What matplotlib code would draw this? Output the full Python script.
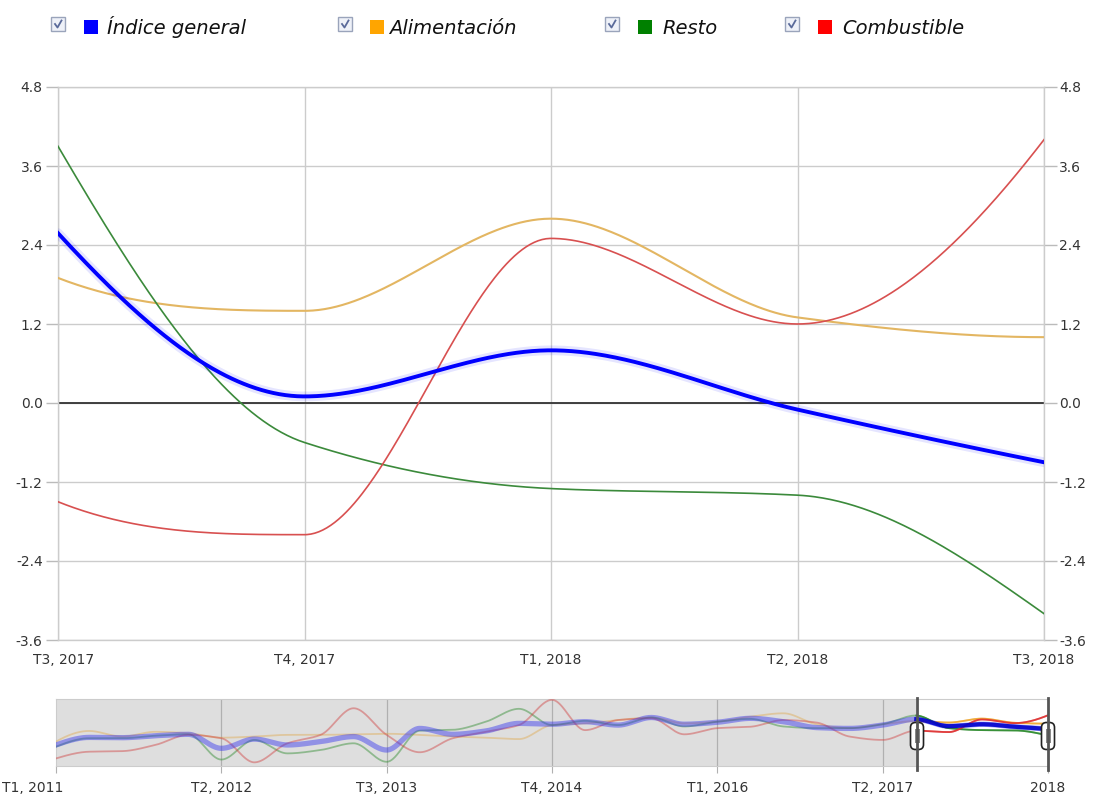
import numpy as np
import matplotlib.pyplot as plt
from matplotlib.patches import Rectangle, FancyBboxPatch
from matplotlib.lines import Line2D
from matplotlib.transforms import Affine2D, ScaledTranslation

# Datos del gráfico principal (trimestres)
periodos = ['T3, 2017', 'T4, 2017', 'T1, 2018', 'T2, 2018', 'T3, 2018']
indice_general = [2.58, 0.1, 0.8, -0.1, -0.9]
alimentacion = [1.9, 1.4, 2.8, 1.3, 1.0]
resto = [3.9, -0.6, -1.3, -1.4, -3.2]
combustible = [-1.5, -2.0, 2.5, 1.2, 4.0]

# Histórico del navegador, T1 2011 .. T2 2017 (después siguen los datos de arriba)
hist_indice = [-6.6, -3.9, -4.0, -3.3, -2.8, -7.8, -4.5, -6.6, -5.4, -3.6, -8.4, -0.7, -2.8,
               -1.6, 1.1, 0.8, 1.7, 0.5, 3.2, 0.8, 1.5, 2.9, 1.7, -0.4, -0.7, 0.5]
hist_alimentacion = [-5.4, -1.6, -3.6, -1.9, -2.4, -4.0, -3.6, -3.0, -3.0, -2.8, -2.6, -3.0, -3.6,
                     -4.0, -4.5, 0.5, 1.1, 2.3, 3.2, 1.1, 1.7, 3.5, 4.7, 0.8, -0.6, 0.8]
hist_resto = [-7.2, -4.2, -4.2, -3.3, -2.8, -11.8, -4.8, -9.6, -8.4, -6.0, -12.6, -1.5, -1.2,
              1.7, 6.3, 0.5, 2.0, 0.5, 3.2, 0.0, 1.7, 2.7, 0.0, -0.6, -0.6, 0.8]
hist_combustible = [-11.4, -9.0, -8.8, -6.6, -3.0, -4.2, -12.8, -6.0, -3.0, 6.5, -3.0, -9.2, -4.2,
                    -1.9, 0.5, 9.5, -1.3, 2.3, 2.9, -2.8, -0.6, -0.1, 2.3, 1.4, -3.6, -4.8]
nav_ticks = [0, 5, 10, 15, 20, 25, 30]
nav_labels = ['T1, 2011', 'T2, 2012', 'T3, 2013', 'T4, 2014', 'T1, 2016', 'T2, 2017', '2018']
nombres = ['Índice general', 'Alimentación', 'Resto', 'Combustible']

W, H = 1097, 800


# Interpolación monótona (tipo PCHIP) para suavizar las curvas
def pchip(x, y, xs):
    x = np.asarray(x, float)
    y = np.asarray(y, float)
    h = np.diff(x)
    d = np.diff(y) / h
    n = len(x)
    m = np.zeros(n)
    for k in range(1, n - 1):
        if d[k - 1] * d[k] > 0:
            w1 = 2 * h[k] + h[k - 1]
            w2 = h[k] + 2 * h[k - 1]
            m[k] = (w1 + w2) / (w1 / d[k - 1] + w2 / d[k])
    for (i, a, b, ha, hb) in [(0, d[0], d[1], h[0], h[1]), (n - 1, d[-1], d[-2], h[-1], h[-2])]:
        e = ((2 * ha + hb) * a - ha * b) / (ha + hb)
        if np.sign(e) != np.sign(a):
            e = 0
        elif np.sign(a) != np.sign(b) and abs(e) > abs(3 * a):
            e = 3 * a
        m[i] = e
    idx = np.clip(np.searchsorted(x, xs) - 1, 0, n - 2)
    t = (xs - x[idx]) / h[idx]
    h00 = 2 * t**3 - 3 * t**2 + 1
    h10 = t**3 - 2 * t**2 + t
    h01 = -2 * t**3 + 3 * t**2
    h11 = t**3 - t**2
    return h00 * y[idx] + h10 * h[idx] * m[idx] + h01 * y[idx + 1] + h11 * h[idx] * m[idx + 1]


fig = plt.figure(figsize=(W / 100, H / 100), dpi=100)
# coordenadas en píxeles de la imagen (y hacia abajo)
PX = Affine2D().scale(1.0 / W, -1.0 / H).translate(0, 1) + fig.transFigure

# ---- gráfico principal
ax = fig.add_axes([58 / W, 1 - 640 / H, 986 / W, 553 / H])
x = np.arange(len(periodos))
xs = np.linspace(0, len(periodos) - 1, 500)
ax.set_xlim(0, 4)
ax.set_ylim(-3.6, 4.8)
yt = np.round(np.arange(-3.6, 4.81, 1.2), 1)
ax.set_yticks(yt)
ax.set_yticklabels(['%.1f' % (v + 0.0) for v in yt])
ax.set_xticks(x)
ax.set_xticklabels(periodos)
ax.grid(True, color='#cccccc', lw=1)
ax.set_axisbelow(True)
for s in ax.spines.values():
    s.set_color('#cccccc')
    s.set_linewidth(1)
ax.tick_params(axis='y', which='both', direction='out', length=9, width=1, color='#bbbbbb',
               labelsize=10, labelcolor='#333333', pad=2, right=True, labelright=True)
ax.tick_params(axis='x', length=0, labelsize=10, labelcolor='#333333', pad=9)
ax.axhline(0, color='#333333', lw=1.3, zorder=2)
lab0 = ax.get_xticklabels()[0]
lab0.set_transform(lab0.get_transform() + ScaledTranslation(0.06, 0, fig.dpi_scale_trans))

ax.plot(xs, pchip(x, alimentacion, xs), color='#e3b662', lw=1.5, zorder=3)
ax.plot(xs, pchip(x, resto, xs), color='#3b8a3b', lw=1.2, zorder=3)
ax.plot(xs, pchip(x, combustible, xs), color='#d85050', lw=1.2, zorder=3)
yb = pchip(x, indice_general, xs)
ax.plot(xs, yb, color='#0000ff', lw=7, alpha=0.10, zorder=4, solid_capstyle='round')
ax.plot(xs, yb, color='#0000ff', lw=2.8, zorder=5)

# ---- navegador
nav = fig.add_axes([56 / W, 1 - 766 / H, 992 / W, 67 / H])
nq = np.arange(len(hist_indice) + len(periodos))
nxs = np.linspace(0, nq[-1], 1500)
nav.set_xlim(0, nq[-1])
nav.set_ylim(-14.1, 9.8)
nav.axvspan(0, 26, color='#dedede', lw=0, zorder=0)
for q in nav_ticks[1:-1]:
    nav.axvline(q, color='#b0b0b0', lw=0.9, zorder=1)
for s in nav.spines.values():
    s.set_color('#cccccc')
nav.set_yticks([])
nav.set_xticks(nav_ticks)
nav.set_xticklabels(nav_labels)
nav.tick_params(axis='x', direction='out', length=5, color='#b0b0b0', labelsize=10,
                labelcolor='#333333', pad=6)
primera = nav.get_xticklabels()[0]
primera.set_transform(primera.get_transform() + ScaledTranslation(-0.23, 0, fig.dpi_scale_trans))

series = [(hist_indice + indice_general, '#3333ee', '#0000cc', 3.8),
          (hist_alimentacion + alimentacion, '#e0aa50', '#f0a830', 1.3),
          (hist_resto + resto, '#2e8b2e', '#2e8b2e', 1.3),
          (hist_combustible + combustible, '#d04040', '#e03030', 1.3)]
orden = [1, 2, 3, 0]
sel = nxs >= 26
for i in orden:
    vals, cfade, cfull, lw = series[i]
    ys = pchip(nq, vals, nxs)
    nav.plot(nxs, ys, color=cfade, lw=lw, alpha=0.45, zorder=3 + (i == 0))
    nav.plot(nxs[sel], ys[sel], color=cfull, lw=lw * (0.8 if i == 0 else 1.0),
             alpha=0.9, zorder=5 + (i == 0))

# manejadores de la selección
for hx in [917, 1048]:
    fig.add_artist(Line2D([hx, hx], [698, 770], color='#555555', lw=2, transform=PX))
    fig.add_artist(FancyBboxPatch((hx - 5, 724), 10, 24, boxstyle='round,pad=1.5,rounding_size=5',
                                  facecolor='white', edgecolor='#222222', lw=1.2, transform=PX))
    fig.add_artist(Rectangle((hx - 2.5, 729), 5, 14, facecolor='#888888', edgecolor='none',
                             transform=PX))

# ---- leyenda
leg_colores = ['#0000ff', '#ffa500', '#008000', '#ff0000']
leg_check = [51, 338, 605, 785]
leg_caja = [84, 370, 638, 818]
leg_texto = [107, 389, 662, 842]
for i in range(4):
    cx = leg_check[i]
    fig.add_artist(Rectangle((cx, 17), 14, 14, facecolor='#eef1f8', edgecolor='#9aa4bb',
                             lw=1, transform=PX))
    fig.add_artist(Line2D([cx + 4, cx + 6.5, cx + 10.5], [24, 27.5, 20.5], color='#5a6a9a',
                          lw=1.3, transform=PX))
    fig.add_artist(Rectangle((leg_caja[i], 19.5), 14, 14.5, facecolor=leg_colores[i],
                             edgecolor='none', transform=PX))
    fig.text(leg_texto[i], 34, nombres[i], transform=PX, fontsize=14, style='italic',
             color='#111111', va='baseline', ha='left')

fig.savefig('out.png', dpi=100)
